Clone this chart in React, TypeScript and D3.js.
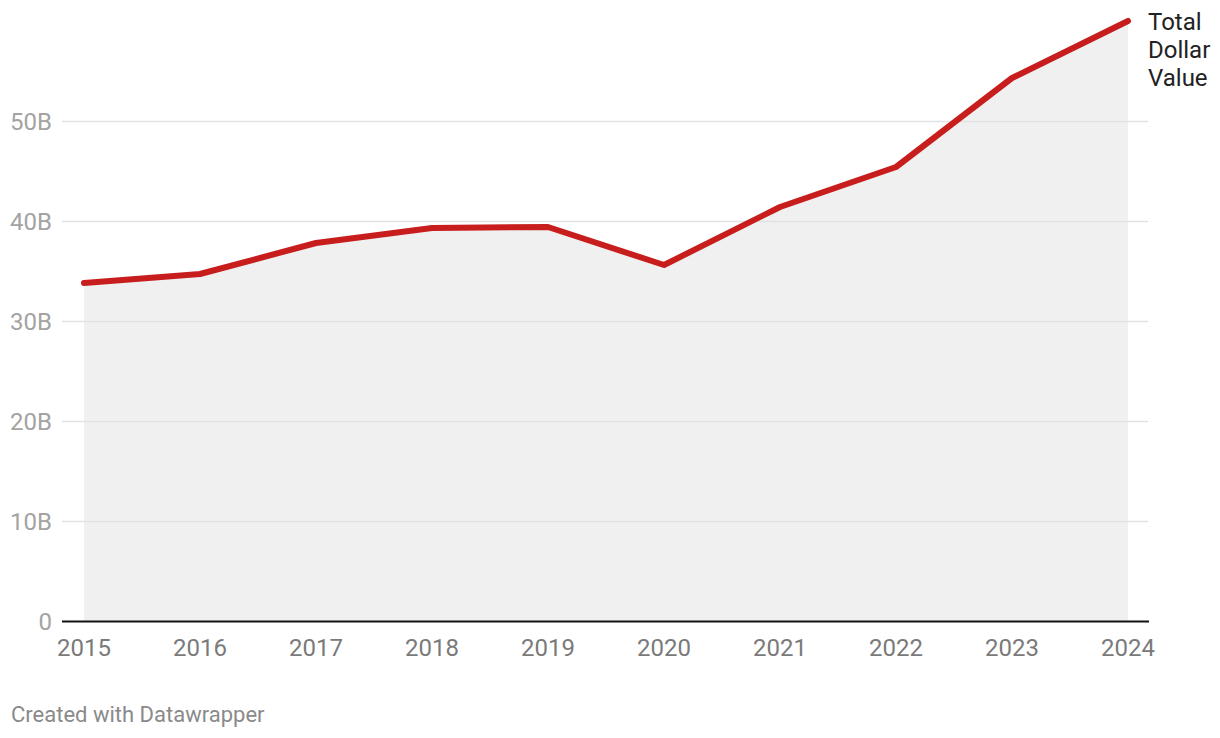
import React from "react";
import * as d3 from "d3";

const years = [2015, 2016, 2017, 2018, 2019, 2020, 2021, 2022, 2023, 2024];
const values = [33.8, 34.7, 37.8, 39.3, 39.4, 35.6, 41.4, 45.4, 54.3, 60.0];
const yTicks = [0, 10, 20, 30, 40, 50];
const yTickLabels = ["0", "10B", "20B", "30B", "40B", "50B"];
const seriesLabel = ["Total", "Dollar", "Value"];
const credit = "Created with Datawrapper";

const W = 1220;
const H = 738;

export default function App() {
  const x = d3.scaleLinear().domain([2015, 2024]).range([84, 1128]);
  const y = d3.scaleLinear().domain([0, 50]).range([621, 121]);
  const line = d3
    .line<number>()
    .x((_, i) => x(years[i]))
    .y((d) => y(d));
  const area = d3
    .area<number>()
    .x((_, i) => x(years[i]))
    .y0(y(0))
    .y1((d) => y(d));
  const font = "Roboto, 'Noto Sans', sans-serif";
  const last = values[values.length - 1];
  return (
    <svg
      width={W}
      height={H}
      style={{ position: "absolute", left: 0, top: 0, background: "#fff" }}
      fontFamily={font}
    >
      <path d={area(values) || ""} fill="#f0f0f0" />
      {yTicks.map((t) =>
        t === 0 ? null : (
          <line
            key={t}
            x1={62}
            x2={1148}
            y1={y(t) + 0.5}
            y2={y(t) + 0.5}
            stroke="#e2e2e2"
            strokeWidth={1.5}
          />
        )
      )}
      {yTicks.map((t, i) => (
        <text
          key={"l" + t}
          x={52}
          y={y(t)}
          dy="0.36em"
          textAnchor="end"
          fontSize={24}
          fill="#a3a3a3"
        >
          {yTickLabels[i]}
        </text>
      ))}
      <line x1={62} x2={1149} y1={y(0) + 0.5} y2={y(0) + 0.5} stroke="#111" strokeWidth={2} />
      {years.map((yr) => (
        <text
          key={yr}
          x={x(yr)}
          y={656}
          textAnchor="middle"
          fontSize={24}
          fill="#7a7a7a"
        >
          {yr}
        </text>
      ))}
      <path
        d={line(values) || ""}
        fill="none"
        stroke="#c71e1d"
        strokeWidth={6}
        strokeLinejoin="round"
        strokeLinecap="round"
      />
      {seriesLabel.map((s, i) => (
        <text
          key={s}
          x={1148}
          y={y(last) + i * 28}
          dy="0.36em"
          fontSize={24}
          fill="#222"
        >
          {s}
        </text>
      ))}
      <text x={11} y={722} fontSize={22} fill="#8a8a8a">
        {credit}
      </text>
    </svg>
  );
}
